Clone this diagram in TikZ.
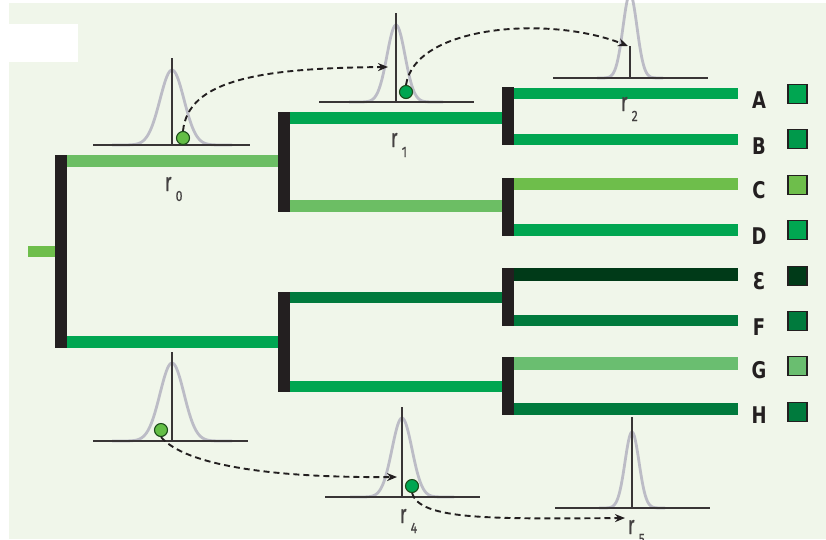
\documentclass[tikz,border=0pt]{standalone}
\usepackage{fontspec}
\usetikzlibrary{arrows.meta}
\newfontfamily\letfont[FakeStretch=0.78]{DejaVu Sans}
\newfontfamily\rfont[FakeStretch=0.62,FakeBold=0.8]{Fira Sans}
\newfontfamily\subfont[FakeStretch=0.8,FakeBold=0.5]{Fira Sans}
\definecolor{bgc}{RGB}{240,246,234}
\definecolor{barc}{RGB}{35,31,32}
\definecolor{gA}{RGB}{0,166,81}
\definecolor{lgA}{RGB}{108,190,100}
\definecolor{lgC}{RGB}{110,190,75}
\definecolor{lgG}{RGB}{106,190,112}
\definecolor{dgF}{RGB}{0,122,61}
\definecolor{dgE}{RGB}{0,58,24}
\definecolor{gaussc}{RGB}{188,188,198}
\definecolor{ballc}{RGB}{100,190,70}
\newcommand\gaussbell[5]{% cx, base, height, sigma, tail half-width
  \draw[gaussline] ({#1-#5},#2) -- ({#1-4*#4},#2) -- plot[domain=-4:4,samples=90,variable=\t] ({#1+\t*#4},{#2-#3*exp(-\t*\t/2)}) -- ({#1+#5},#2);
}
\newcommand\rsub[1]{\,\raisebox{-10pt}{\subfont\fontsize{15}{15}\selectfont #1}}
\begin{document}
\begin{tikzpicture}[x=1pt,y=-1pt,
  gaussline/.style={draw=gaussc,line width=2.8pt,line join=round},
  axisline/.style={draw=barc!90,line width=1.5pt},
  ball/.style={circle,minimum size=13pt,inner sep=0pt,draw=barc!80!green,line width=1.1pt},
  dasharrow/.style={draw=barc,line width=1.9pt,dash pattern=on 6pt off 4pt,-{Stealth[length=10pt,width=8pt]}},
  sq/.style={minimum size=19pt,inner sep=0pt,draw=barc,line width=1.3pt},
  letter/.style={inner sep=0pt,text=barc,font=\letfont\bfseries\fontsize{23}{23}\selectfont},
  rlab/.style={inner sep=0pt,anchor=base west,text=barc!85,font=\rfont\fontsize{26}{26}\selectfont}
]
\useasboundingbox (0,0) rectangle (826,539);
\clip (0,0) rectangle (826,539);
\fill[white] (0,0) rectangle (826,539);
\fill[bgc] (9,3) rectangle (826,539);
\fill[white] (9,24) rectangle (78,62);

% ---- tree ----
\fill[lgC] (28,246) rectangle (55,257);
\fill[barc] (55,155) rectangle (67,348);
\fill[lgA] (67,155) rectangle (278,167);
\fill[gA] (67,336) rectangle (278,348);
% level 2
\fill[barc] (278,112) rectangle (290,212);
\fill[gA] (290,112) rectangle (502,124);
\fill[lgA] (290,200) rectangle (502,212);
\fill[barc] (278,292) rectangle (290,392);
\fill[dgF] (290,292) rectangle (502,303);
\fill[gA] (290,381) rectangle (502,392);
% level 3
\fill[barc] (502,87) rectangle (514,145);
\fill[gA] (514,88) rectangle (738,99);
\fill[gA] (514,134) rectangle (738,145);
\fill[barc] (502,178) rectangle (514,236);
\fill[lgC] (514,178) rectangle (738,190);
\fill[gA] (514,224) rectangle (738,236);
\fill[barc] (502,268) rectangle (514,326);
\fill[dgE] (514,268) rectangle (738,281);
\fill[dgF] (514,315) rectangle (738,326);
\fill[barc] (502,357) rectangle (514,415);
\fill[lgG] (514,357) rectangle (738,370);
\fill[dgF] (514,403) rectangle (738,415);

% ---- leaf labels ----
\node[letter] (tA) at (759,100) {A};
\node[letter] (tB) at (759,146) {B};
\node[letter] (tC) at (759,190) {C};
\node[letter] (tD) at (759,236) {D};
\node[letter] (tE) at (759,281) {Ɛ};
\node[letter] (tF) at (759,327) {F};
\node[letter] (tG) at (759,370) {G};
\node[letter] (tH) at (759,415) {H};
\node[sq,fill=gA] (sA) at (797.5,94) {};
\node[sq,fill=gA!92!black] (sB) at (797.5,139) {};
\node[sq,fill=lgC] (sC) at (797.5,185) {};
\node[sq,fill=gA] (sD) at (797.5,230) {};
\node[sq,fill=dgE] (sE) at (797.5,276) {};
\node[sq,fill=dgF] (sF) at (797.5,321) {};
\node[sq,fill=lgG] (sG) at (797.5,366) {};
\node[sq,fill=dgF] (sH) at (797.5,412) {};

% ---- distributions ----
\gaussbell{172}{145}{75}{12}{60}
\draw[axisline] (93,145) -- (250,145);
\draw[axisline] (172,58) -- (172,145);
\gaussbell{396}{102}{77}{9}{47}
\draw[axisline] (319,102) -- (474,102);
\draw[axisline] (396,13) -- (396,102);
\gaussbell{630}{78}{84}{7}{33}
\draw[axisline] (553,78) -- (708,78);
\draw[axisline] (630,46) -- (630,78);
\gaussbell{172}{441}{78}{12}{60}
\draw[axisline] (93,441) -- (248,441);
\draw[axisline] (172,352) -- (172,441);
\gaussbell{402}{497}{79}{10}{52}
\draw[axisline] (325,497) -- (480,497);
\draw[axisline] (402,407) -- (402,497);
\gaussbell{632}{508}{76}{7}{33}
\draw[axisline] (555,508) -- (710,508);
\draw[axisline] (632,417) -- (632,508);

% ---- balls ----
\node[ball,fill=ballc] (b0) at (183,138) {};
\node[ball,fill=gA] (b1) at (406,92) {};
\node[ball,fill=ballc] (b3) at (161,430) {};
\node[ball,fill=gA] (b4) at (412,486) {};

% ---- labels ----
\node[rlab] (l0) at (165,191) {r\rsub{0}};
\node[rlab] (l1) at (391,147) {r\rsub{1}};
\node[rlab] (l2) at (621,111) {r\rsub{2}};
\node[rlab] (l4) at (400,523) {r\rsub{4}};
\node[rlab] (l5) at (628,534) {r\rsub{5}};

% ---- dashed arrows ----
\coordinate (a1) at (388,67);
\coordinate (a2) at (628,46);
\coordinate (a4) at (397,477);
\coordinate (a5) at (625,518);
\draw[dasharrow] (b0.north) .. controls (188,80) and (260,68) .. (a1);
\draw[dasharrow] (b1.north) .. controls (415,25) and (550,15) .. (a2);
\draw[dasharrow] (b3.south) .. controls (185,465) and (270,478) .. (a4);
\draw[dasharrow] (b4.south) .. controls (420,520) and (490,519) .. (a5);
\end{tikzpicture}
\end{document}
